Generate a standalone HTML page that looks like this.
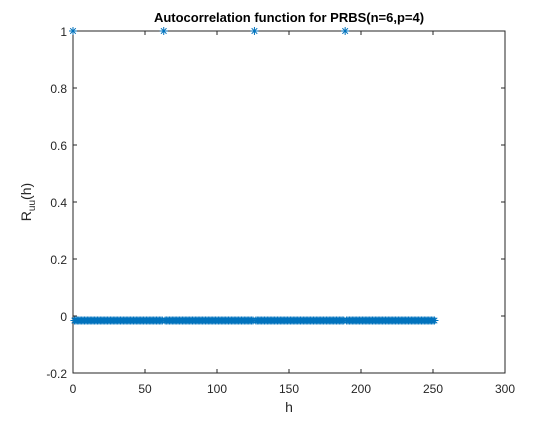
<!DOCTYPE html>
<html><head><meta charset="utf-8"><style>
body{margin:0;background:#fff}
svg text{font-family:"Liberation Sans",sans-serif}
</style></head><body>
<svg id="chart" width="560" height="420" xmlns="http://www.w3.org/2000/svg">
<rect x="0" y="0" width="560" height="420" fill="#fff"/>
<g id="axes"></g>
<g id="marks"></g>
<text x="289" y="22" text-anchor="middle" font-size="13" font-weight="bold" fill="#000">Autocorrelation function for PRBS(n=6,p=4)</text>
<text x="289" y="412" text-anchor="middle" font-size="14" fill="#262626">h</text>
<text transform="translate(31,202) rotate(-90)" text-anchor="middle" font-size="14" fill="#262626">R<tspan font-size="10" dy="4">uu</tspan><tspan dy="-4">(h)</tspan></text>
</svg>
<script>
const xTicks=[0,50,100,150,200,250,300];
const yTicks=[-0.2,0,0.2,0.4,0.6,0.8,1];
const yTickLabels=["-0.2","0","0.2","0.4","0.6","0.8","1"];
const m=-0.0159;
const block=[1,m,m,m,m,m,m,m,m,m,m,m,m,m,m,m,m,m,m,m,m,m,m,m,m,m,m,m,m,m,m,m,m,m,m,m,m,m,m,m,m,m,m,m,m,m,m,m,m,m,m,m,m,m,m,m,m,m,m,m,m,m,m];
const ruu=[].concat(block,block,block,block);
const lags=ruu.map((_,i)=>i);
const X0=73,X1=505,Y0=373,Y1=31;
const xs=v=>X0+(v-0)/(300-0)*(X1-X0);
const ys=v=>Y0-(v+0.2)/(1.2)*(Y0-Y1);
const NS="http://www.w3.org/2000/svg";
const ax=document.getElementById('axes');
function mk(t,a,p){const e=document.createElementNS(NS,t);for(const k in a)e.setAttribute(k,a[k]);p.appendChild(e);return e;}
let b=mk('rect',{x:X0,y:Y1,width:X1-X0,height:Y0-Y1,fill:'none',stroke:'#262626','stroke-width':1},ax);


xTicks.forEach(t=>{const x=xs(t);
 mk('line',{x1:x,x2:x,y1:Y0,y2:Y0-4,stroke:'#262626'},ax);
 mk('line',{x1:x,x2:x,y1:Y1,y2:Y1+4,stroke:'#262626'},ax);
 const tx=mk('text',{x:x,y:Y0+20,'text-anchor':'middle','font-size':'12',fill:'#262626'},ax);tx.textContent=t;
 
 });
yTicks.forEach((t,i)=>{const y=ys(t);
 mk('line',{x1:X0,x2:X0+4,y1:y,y2:y,stroke:'#262626'},ax);
 mk('line',{x1:X1,x2:X1-4,y1:y,y2:y,stroke:'#262626'},ax);
 const tx=mk('text',{x:X0-6,y:y+5,'text-anchor':'end','font-size':'12',fill:'#262626'},ax);tx.textContent=yTickLabels[i];
 
 });
const mg=document.getElementById('marks');
lags.forEach((h,i)=>{const x=xs(h),y=ys(ruu[i]),r=4;
 const p=mk('path',{d:`M${x-r},${y}H${x+r}M${x},${y-r}V${y+r}M${x-r*0.7},${y-r*0.7}L${x+r*0.7},${y+r*0.7}M${x-r*0.7},${y+r*0.7}L${x+r*0.7},${y-r*0.7}`,stroke:'#0072BD','stroke-width':1,fill:'none'},mg);
 
 });
</script>
</body></html>
